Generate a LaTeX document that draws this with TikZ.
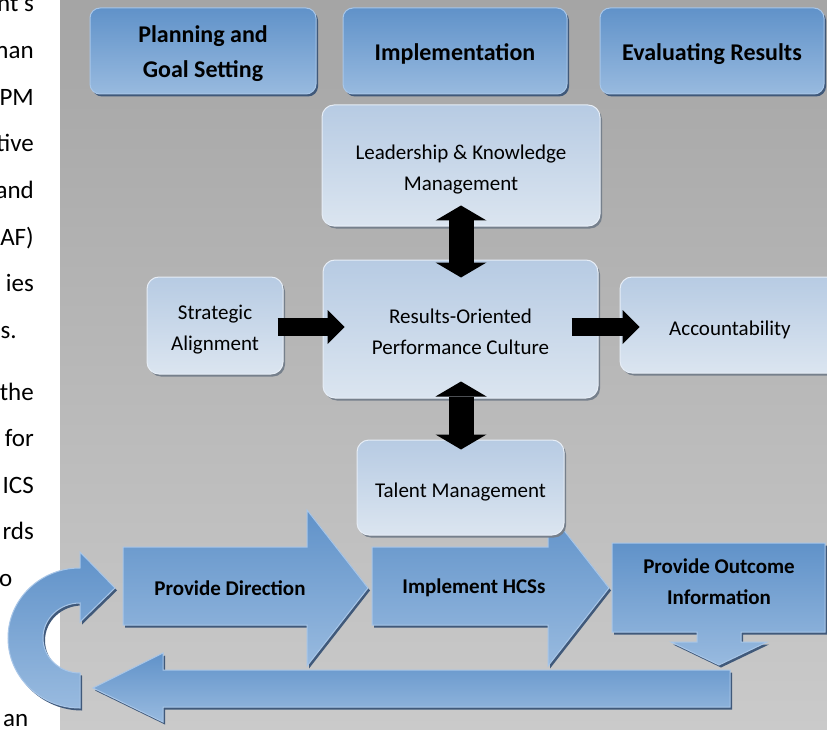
\documentclass[tikz,border=0pt]{standalone}
\usepackage{fontspec}
\setmainfont{Carlito}
\usetikzlibrary{calc,arrows.meta}
\definecolor{bgtop}{RGB}{165,165,165}
\definecolor{bgbot}{RGB}{202,202,202}
\definecolor{btop}{RGB}{96,146,201}
\definecolor{bbot}{RGB}{152,186,223}
\definecolor{bline}{RGB}{168,198,232}
\definecolor{bshadow}{RGB}{64,89,122}
\definecolor{ltop}{RGB}{183,203,227}
\definecolor{lbot}{RGB}{219,229,240}
\definecolor{lline}{RGB}{230,237,246}
\definecolor{lshadow}{RGB}{118,128,140}
\begin{document}
\begin{tikzpicture}[x=1pt,y=-1pt,
  bluesh/.style={preaction={fill=bshadow,transform canvas={shift={(2pt,-2.5pt)}}},
    top color=btop,bottom color=bbot,draw=bline,line width=1pt},
  topbox/.style={bluesh,rounded corners=10pt,inner sep=0pt},
  lightbox/.style={preaction={fill=lshadow,transform canvas={shift={(2pt,-2.5pt)}}},
    top color=ltop,bottom color=lbot,draw=lline,line width=1pt,
    rounded corners=12pt,inner sep=0pt},
  toptext/.style={align=center,inner sep=0pt,yshift=-3pt,font=\fontsize{24}{35}\selectfont\bfseries},
  lighttext/.style={align=center,inner sep=0pt,yshift=-4.5pt,font=\fontsize{21}{31}\selectfont},
  btext/.style={align=center,font=\fontsize{21}{31}\selectfont\bfseries},
  lt/.style={anchor=base east,inner sep=0pt,font=\fontsize{25}{30}\selectfont},
  harrow/.style={line width=18pt,-{Triangle[length=17pt,width=34pt,line width=0pt]}},
  varrow/.style={line width=25pt,{Triangle[length=15pt,width=51pt,line width=0pt]}-{Triangle[length=15pt,width=51pt,line width=0pt]}}
]
\useasboundingbox (0,0) rectangle (827,730);
\begin{scope}
\clip (0,0) rectangle (827,730);
\fill[white] (0,0) rectangle (827,730);
\shade[top color=bgtop,bottom color=bgbot] (60,0) rectangle (827,730);

% left document text fragment (cropped, as in the source page)
\node[lt] (t1) at (34,12) {nt’s};
\node[lt] (t2) at (34,58.6) {man};
\node[lt] (t3) at (34,105.2) {PPM};
\node[lt] (t4) at (34,151.8) {tive};
\node[lt] (t5) at (34,198.4) {and};
\node[lt] (t6) at (34,245) {AF)};
\node[lt] (t7) at (34,291.6) {ies};
\node[lt,anchor=base west] (t8) at (0.5,338.2) {s.};
\node[lt] (t9) at (34,400) {the};
\node[lt] (t10) at (34,446.6) {for};
\node[lt] (t11) at (34,493.2) {ICS};
\node[lt] (t12) at (34,539.8) {rds};
\node[lt] (t13) at (12.5,586.4) {o};
\node[lt] (t14) at (28.5,726.2) {an};

% top phase boxes
\node[topbox,minimum width=226pt,minimum height=86pt] (plan) at (203,51) {};
\node[toptext] (planT) at (plan) {Planning and\\Goal Setting};
\node[topbox,minimum width=224pt,minimum height=86pt] (impl) at (455,51) {};
\node[toptext] (implT) at (impl) {Implementation};
\node[topbox,minimum width=224pt,minimum height=86pt] (eval) at (712,51) {};
\node[toptext] (evalT) at (eval) {Evaluating Results};

% bottom cycle arrows
\path[bluesh] (123,547) -- (307,547) -- (307,510) -- (368,588) -- (307,666) -- (307,625) -- (123,625) -- cycle;
\node[btext] (pd) at (230,588) {Provide Direction};
\path[bluesh] (372,547) -- (548,547) -- (548,510) -- (609,588) -- (548,666) -- (548,625) -- (372,625) -- cycle;
\node[btext] (ih) at (474,588) {Implement HCSs};
\path[bluesh] (612,543) -- (825,543) -- (825,632) -- (741,632) -- (741,642) -- (767,642) -- (719,665)
  -- (671,642) -- (697,642) -- (697,632) -- (612,632) -- cycle;
\node[btext] (po) at (719,581.5) {Provide Outcome\\Information};
\path[bluesh] (730,670) -- (163,670) -- (163,653) -- (93,688) -- (163,722) -- (163,707) -- (730,707) -- cycle;
\path[bluesh] (80,708) arc[start angle=90,end angle=270,x radius=72,y radius=70] -- (80,552) -- (115,588) -- (80,622)
  -- (80,603) arc[start angle=270,end angle=90,x radius=37,y radius=35] -- cycle;

% centre model boxes
\node[lightbox,minimum width=278pt,minimum height=121pt] (lead) at (461,165.5) {};
\node[lighttext] (leadT) at (lead) {Leadership \& Knowledge\\Management};
\node[lightbox,minimum width=275pt,minimum height=138pt] (res) at (460.5,329) {};
\node[lighttext,yshift=1.5pt] (resT) at (res) {Results-Oriented\\Performance Culture};
\node[lightbox,minimum width=136pt,minimum height=97pt] (strat) at (215,325.5) {};
\node[lighttext] (stratT) at (strat) {Strategic\\Alignment};
\node[lightbox,minimum width=220pt,minimum height=96pt] (acc) at (730,325) {};
\node[lighttext] (accT) at (acc) {Accountability};
\node[lightbox,minimum width=207pt,minimum height=95pt] (tal) at (460.5,487.5) {};
\node[lighttext] (talT) at (tal) {Talent Management};

% black connectors
\coordinate (h1s) at ($(strat.east)+(-6,1.5)$);
\coordinate (h1e) at ($(res.west |- h1s)+(22,0)$);
\draw[harrow] (h1s) -- (h1e);
\coordinate (h2s) at ($(res.east |- acc.west)+(-27,2)$);
\coordinate (h2e) at ($(acc.west)+(20,2)$);
\draw[harrow] (h2s) -- (h2e);
\coordinate (v1s) at ($(lead.south)+(0,-21)$);
\coordinate (v1e) at ($(res.north -| lead.south)+(0,18)$);
\draw[varrow] (v1s) -- (v1e);
\coordinate (v2s) at ($(res.south -| lead.south)+(0,-17)$);
\coordinate (v2e) at ($(tal.north -| lead.south)+(0,10)$);
\draw[varrow] (v2s) -- (v2e);
\end{scope}
\end{tikzpicture}
\end{document}
